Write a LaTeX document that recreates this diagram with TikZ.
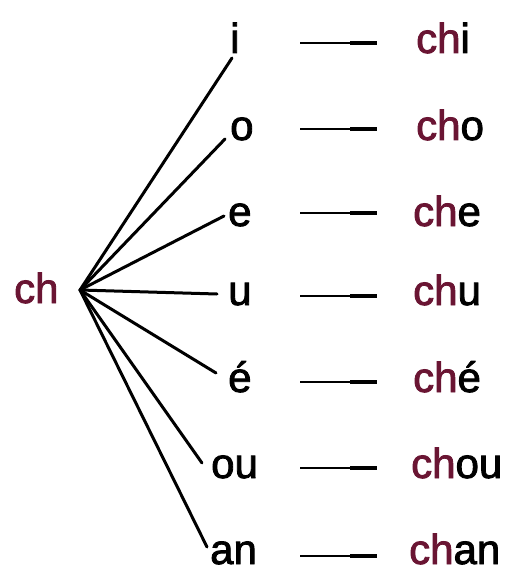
\documentclass[tikz,border=0pt]{standalone}
\usepackage{fontspec}
\newfontfamily\medfont[FakeBold=2]{Liberation Sans}
\usetikzlibrary{arrows.meta}
\definecolor{maroon}{HTML}{6A1533}
\tikzset{
  word/.style={inner sep=0pt, anchor=base west, font=\medfont\fontsize{42}{42}\selectfont},
  fan/.style={line width=3pt, line cap=round},
  conv/.style={line width=1.3pt, -{Rectangle[length=27pt,width=4.5pt]}}
}
\newcommand{\cc}{\textcolor{maroon}{ch}}
\begin{document}
\begin{tikzpicture}[x=1pt,y=-1pt]
\useasboundingbox (0,0) rectangle (525,585);
\node[word] (ch) at (14,303) {\cc};
\coordinate (f) at (80,290);
% vowels
\node[word] (v1) at (230,53) {i};
\node[word] (v2) at (230,140) {o};
\node[word] (v3) at (228,226) {e};
\node[word] (v4) at (228,305) {u};
\node[word] (v5) at (228,392) {é};
\node[word] (v6) at (211,478) {ou};
\node[word] (v7) at (210,564) {an};
% line ends
\coordinate (e1) at (232,58);
\coordinate (e2) at (225,139);
\coordinate (e3) at (224,216);
\coordinate (e4) at (217,294);
\coordinate (e5) at (216,373);
\coordinate (e6) at (202,463);
\coordinate (e7) at (207,547);
\foreach \i in {1,...,7} \draw[fan] (f) -- (e\i);
% results
\node[word] (r1) at (416,53) {\cc i};
\node[word] (r2) at (416,140) {\cc o};
\node[word] (r3) at (413,226) {\cc e};
\node[word] (r4) at (413,305) {\cc u};
\node[word] (r5) at (413,392) {\cc é};
\node[word] (r6) at (411,478) {\cc ou};
\node[word] (r7) at (409,564) {\cc an};
% arrows
\foreach \i/\y in {1/43,2/129,3/213,4/296,5/382,6/468,7/556} {
  \coordinate (a\i) at (300,\y);
  \coordinate (b\i) at (377,\y);
  \draw[conv] (a\i) -- (b\i);
}
\end{tikzpicture}
\end{document}
